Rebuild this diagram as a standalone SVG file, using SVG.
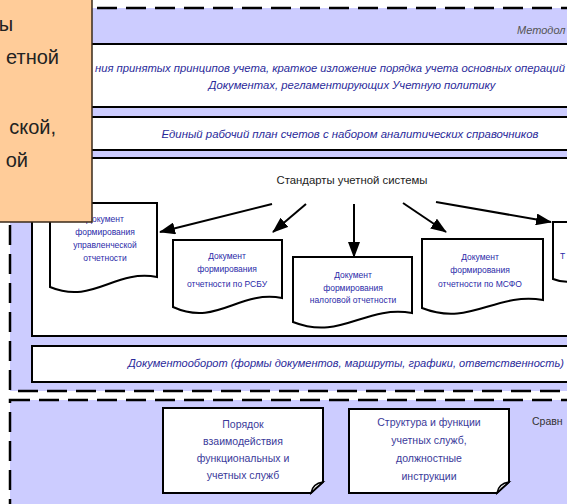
<svg xmlns="http://www.w3.org/2000/svg" width="567" height="504" viewBox="0 0 567 504">
<defs>
<style>
.region{fill:#CCCCFF;stroke:#000;stroke-width:2.5;stroke-dasharray:20 9}
.box{fill:#fff;stroke:#000;stroke-width:2}
.doc{fill:#fff;stroke:#000;stroke-width:2}
.bt{font-family:"Liberation Sans",Arial,sans-serif;font-style:italic;font-size:10px;fill:#2a2a9a}
.dt{font-family:"Liberation Sans",Arial,sans-serif;font-size:8.5px;fill:#2a2aa8;text-anchor:middle}
.nt{font-family:"Liberation Sans",Arial,sans-serif;font-size:10.5px;fill:#3a3a9a;text-anchor:middle}
.ot{font-family:"Liberation Sans",Arial,sans-serif;font-size:20px;fill:#222;text-anchor:end}
.arr{stroke:#000;stroke-width:2;fill:none;marker-end:url(#ah)}
</style>
<marker id="ah" viewBox="0 0 16 12" refX="15" refY="6" markerWidth="16" markerHeight="12" markerUnits="userSpaceOnUse" orient="auto">
<path d="M0,0 L16,6 L0,12 Z" fill="#000"/>
</marker>
</defs>
<rect width="567" height="504" fill="#fff"/>

<g id="region-method">
<rect class="region" x="10" y="8" width="620" height="383"/>
<text x="517" y="34" style="font-family:'Liberation Sans',Arial,sans-serif;font-style:italic;font-size:11px;fill:#555">Методол</text>
</g>

<g id="box-principles">
<rect class="box" x="32" y="44" width="640" height="63"/>
<text class="bt" x="95" y="72" textLength="470" lengthAdjust="spacingAndGlyphs">ния принятых принципов учета, краткое изложение порядка учета основных операций</text>
<text class="bt" x="352" y="89" text-anchor="middle" textLength="287" lengthAdjust="spacingAndGlyphs">Документах, регламентирующих Учетную политику</text>
</g>

<g id="box-plan">
<rect class="box" x="32" y="117" width="640" height="33"/>
<text class="bt" x="350" y="138" text-anchor="middle" textLength="377" lengthAdjust="spacingAndGlyphs">Единый рабочий план счетов с набором аналитических справочников</text>
</g>

<g id="box-standards">
<rect class="box" x="32" y="158" width="640" height="178"/>
<text x="352" y="184" text-anchor="middle" textLength="151" lengthAdjust="spacingAndGlyphs" style="font-family:'Liberation Sans',Arial,sans-serif;font-size:11px;fill:#222">Стандарты учетной системы</text>
</g>

<g id="doc-mgmt">
<path class="doc" d="M50,203 H157 V277 C114,269 93,305 50,287 Z"/>
<text class="dt" x="105" y="222">Документ</text>
<text class="dt" x="105" y="235">формирования</text>
<text class="dt" x="105" y="248">управленческой</text>
<text class="dt" x="105" y="261">отчетности</text>
</g>

<g id="doc-rsbu">
<path class="doc" d="M173,240 H282 V298 C238,290 217,327 173,307 Z"/>
<text class="dt" x="227" y="259">Документ</text>
<text class="dt" x="227" y="272">формирования</text>
<text class="dt" x="227" y="287">отчетности по РСБУ</text>
</g>

<g id="doc-tax">
<path class="doc" d="M293,257 H412 V313 C364,305 341,341 293,322 Z"/>
<text class="dt" x="353" y="278">Документ</text>
<text class="dt" x="353" y="291">формирования</text>
<text class="dt" x="353" y="303">налоговой отчетности</text>
</g>

<g id="doc-ifrs">
<path class="doc" d="M422,239 H543 V300 C495,292 470,327 422,308 Z"/>
<text class="dt" x="480" y="260">Документ</text>
<text class="dt" x="480" y="273">формирования</text>
<text class="dt" x="480" y="287">отчетности по МСФО</text>
</g>

<g id="doc-5">
<path class="doc" d="M553,222 H620 V270 C600,265 580,290 553,279 Z"/>
<text x="560" y="259" style="font-family:'Liberation Sans',Arial,sans-serif;font-size:8.5px;fill:#2a2aa8">Т</text>
</g>

<g id="connectors">
<line class="arr" x1="272" y1="204" x2="160" y2="232"/>
<line class="arr" x1="306" y1="204" x2="273" y2="232"/>
<line class="arr" x1="354" y1="204" x2="354" y2="257"/>
<line class="arr" x1="403" y1="203" x2="446" y2="232"/>
<line class="arr" x1="436" y1="202" x2="551" y2="222"/>
</g>

<g id="box-docflow">
<rect class="box" x="32" y="346" width="640" height="36"/>
<text class="bt" x="128" y="367" textLength="436" lengthAdjust="spacingAndGlyphs">Документооборот (формы документов, маршруты, графики, ответственность)</text>
</g>

<g id="region-org">
<rect class="region" x="10" y="400" width="620" height="150"/>
<text x="532" y="425" style="font-family:'Liberation Sans',Arial,sans-serif;font-size:10.5px;fill:#333">Сравн</text>
</g>

<g id="note-order">
<path class="box" d="M163,408 H323 V482 L311,493 H163 Z"/>
<path d="M311,493 C312,487 316,483 323,482 L316,488 Z" fill="#fff" stroke="#000" stroke-width="1.5"/>
<text class="nt" x="243" y="428">Порядок</text>
<text class="nt" x="243" y="445">взаимодействия</text>
<text class="nt" x="243" y="462">функциональных и</text>
<text class="nt" x="243" y="479">учетных служб</text>
</g>

<g id="note-structure">
<path class="box" d="M349,409 H509 V482 L497,493 H349 Z"/>
<path d="M497,493 C498,487 502,483 509,482 L502,488 Z" fill="#fff" stroke="#000" stroke-width="1.5"/>
<text class="nt" x="429" y="426">Структура и функции</text>
<text class="nt" x="429" y="444">учетных служб,</text>
<text class="nt" x="429" y="462">должностные</text>
<text class="nt" x="429" y="480">инструкции</text>
</g>

<g id="goals-box">
<rect x="-5" y="-5" width="97" height="227" fill="#FFCC99" stroke="#3a2a1a" stroke-width="1.5"/>
<text class="ot" x="13" y="31">ы</text>
<text class="ot" x="59" y="64">етной</text>
<text class="ot" x="56" y="134">ской,</text>
<text class="ot" x="28" y="167">ой</text>
</g>
</svg>
